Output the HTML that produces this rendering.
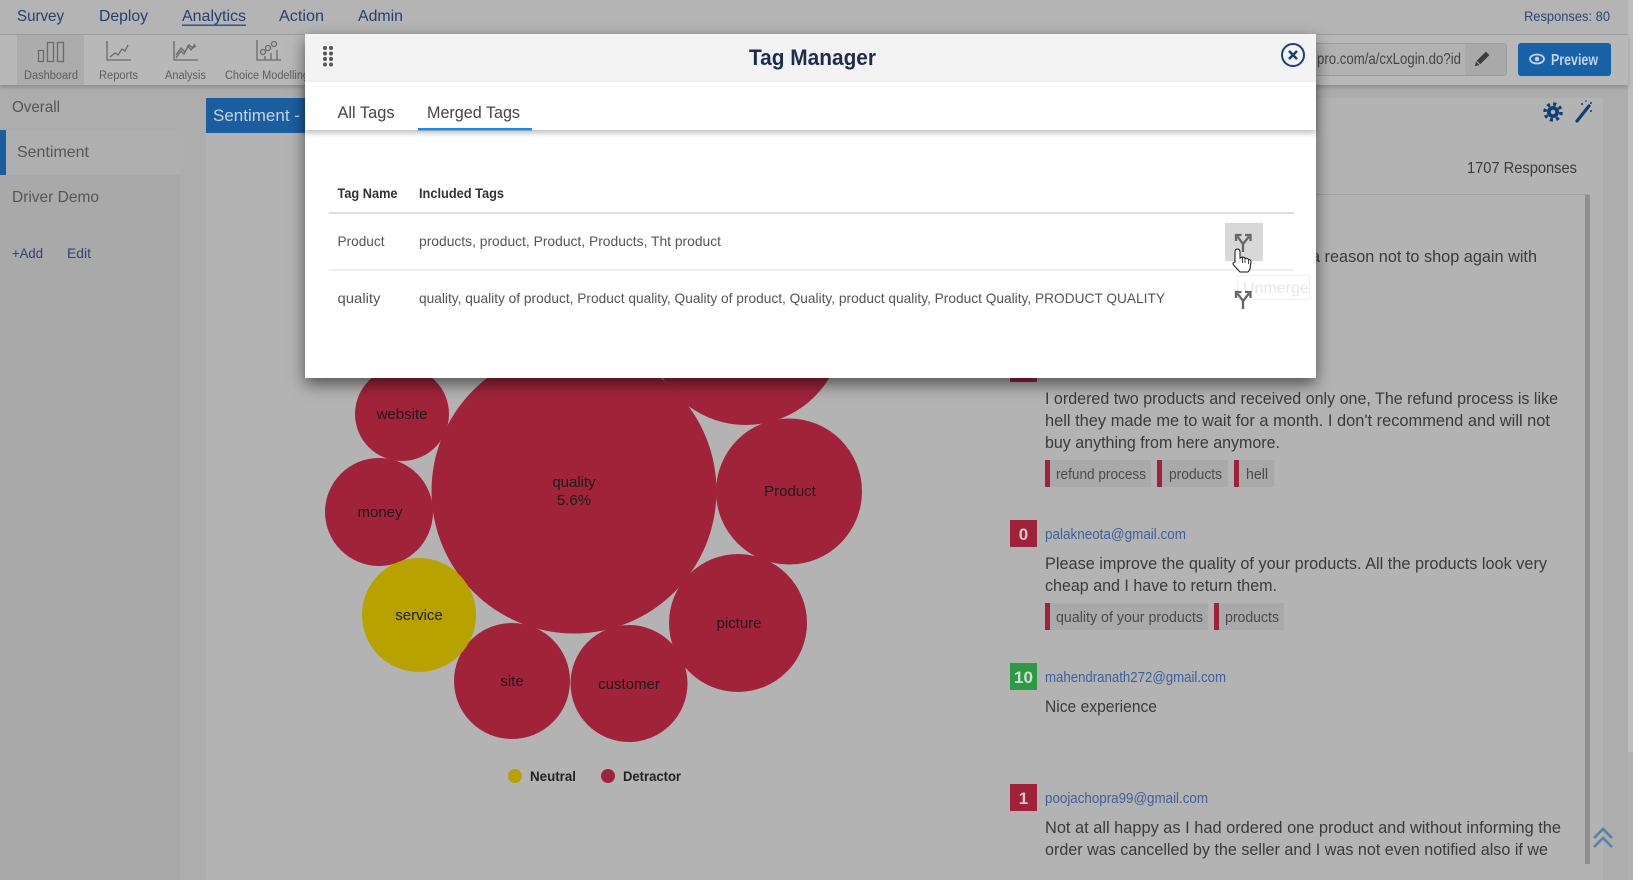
<!DOCTYPE html>
<html><head><meta charset="utf-8"><style>
html,body{margin:0;padding:0;width:1633px;height:880px;overflow:hidden;background:#b3b3b3}
svg{display:block}
text{font-family:"Liberation Sans",sans-serif}
</style></head><body>
<svg width="1633" height="880" viewBox="0 0 1633 880" xmlns="http://www.w3.org/2000/svg">
<defs>
<filter id="msh" x="-10%" y="-10%" width="120%" height="130%"><feDropShadow dx="0" dy="6" stdDeviation="8" flood-color="#000" flood-opacity="0.55"/></filter>
<filter id="tsh" x="-5%" y="-20%" width="110%" height="160%"><feDropShadow dx="0" dy="3" stdDeviation="3" flood-color="#000" flood-opacity="0.25"/></filter>
<filter id="bsh" x="-5%" y="-20%" width="110%" height="160%"><feDropShadow dx="0" dy="2" stdDeviation="2" flood-color="#000" flood-opacity="0.2"/></filter>
<clipPath id="listclip"><rect x="1005" y="195" width="580" height="669"/></clipPath>
</defs>

<!-- base backgrounds -->
<rect x="0" y="0" width="1633" height="880" fill="#adadad"/>
<rect x="206" y="98" width="1397" height="782" fill="#b3b3b3"/>
<rect x="0" y="85" width="180" height="795" fill="#a9a9a9"/>
<rect x="0" y="85" width="180" height="45" fill="#adadad"/>
<rect x="0" y="130" width="180" height="45" fill="#afafaf"/>
<rect x="0" y="130" width="6" height="45" fill="#1b5e9f"/>
<!-- page scrollbar -->
<rect x="1628" y="0" width="5" height="880" fill="#b0b0b0"/>
<rect x="1628" y="0" width="5" height="752" fill="#bdbdbd"/>

<!-- top nav -->
<rect x="0" y="0" width="1628" height="34" fill="#b4b4b4"/>
<rect x="0" y="34" width="1628" height="1" fill="#a2a2a2"/>
<g font-size="16" fill="#223f6e">
<text x="17" y="21" textLength="47" lengthAdjust="spacingAndGlyphs">Survey</text>
<text x="99" y="21" textLength="49" lengthAdjust="spacingAndGlyphs">Deploy</text>
<text x="182" y="21" textLength="64" lengthAdjust="spacingAndGlyphs">Analytics</text>
<text x="279" y="21" textLength="45" lengthAdjust="spacingAndGlyphs">Action</text>
<text x="358" y="21" textLength="45" lengthAdjust="spacingAndGlyphs">Admin</text>
</g>
<rect x="182" y="24.5" width="64" height="1.5" fill="#2a5a8a"/>
<text x="1524" y="21" font-size="14" fill="#284778" textLength="86" lengthAdjust="spacingAndGlyphs">Responses: 80</text>

<!-- toolbar -->
<g filter="url(#bsh)"><rect x="0" y="35" width="1628" height="50" fill="#b8b8b8"/></g>
<rect x="17" y="35" width="67" height="50" fill="#acacac"/>
<g fill="none" stroke="#6a6a6a" stroke-width="1.3">
<rect x="38.5" y="50.5" width="5" height="11"/>
<rect x="47.5" y="42.5" width="6" height="19"/>
<rect x="57.5" y="42.5" width="6" height="19"/>
<path d="M107 41 V60 H131"/>
<path d="M110 57 L115 53 L118 55 L122 49 L125 51 L128 45"/>
<path d="M174 41 V60 H198"/>
<path d="M176 58 L181 51 L184 54 L188 46 L191 50 L195 44"/>
<path d="M176 55 L181 48 L185 52 L189 45 L193 48 L196 46"/>
<path d="M257 40 V60 H281"/>
<circle cx="263" cy="52" r="2.5"/><circle cx="268" cy="48" r="2.5"/><circle cx="274" cy="44" r="2.5"/>
<path d="M265 60 V56 M271 60 V53 M277 60 V50"/>
</g>
<g font-size="11.5" fill="#5c5c5c">
<text x="24" y="79" textLength="54" lengthAdjust="spacingAndGlyphs">Dashboard</text>
<text x="99" y="79" textLength="39" lengthAdjust="spacingAndGlyphs">Reports</text>
<text x="165" y="79" textLength="41" lengthAdjust="spacingAndGlyphs">Analysis</text>
<text x="225" y="79" textLength="84" lengthAdjust="spacingAndGlyphs">Choice Modelling</text>
</g>
<!-- URL box -->
<rect x="1280.5" y="43.5" width="226" height="32" rx="3" fill="#b2b2b2" stroke="#9c9c9c"/>
<rect x="1465" y="44" width="41" height="31" fill="#a9a9a9"/>
<text x="1317" y="64" font-size="16" fill="#444" textLength="144" lengthAdjust="spacingAndGlyphs">pro.com/a/cxLogin.do?id</text>
<g transform="translate(1482 59) rotate(45)"><rect x="-2.5" y="-8" width="5" height="13" fill="#3c3c3c"/><path d="M-2.5 6 L0 10 L2.5 6 Z" fill="#3c3c3c"/></g>
<!-- preview -->
<rect x="1518" y="43" width="93" height="33" rx="3" fill="#1761a7"/>
<ellipse cx="1537" cy="59" rx="7" ry="4.5" fill="none" stroke="#c5d2e2" stroke-width="1.8"/>
<circle cx="1537" cy="59" r="2.3" fill="#c5d2e2"/>
<text x="1551" y="65" font-size="16" font-weight="bold" fill="#c5d2e2" textLength="47" lengthAdjust="spacingAndGlyphs">Preview</text>

<!-- sidebar text -->
<g font-size="16" fill="#555">
<text x="12" y="112" textLength="48" lengthAdjust="spacingAndGlyphs">Overall</text>
<text x="17" y="157" textLength="72" lengthAdjust="spacingAndGlyphs">Sentiment</text>
<text x="12" y="202" textLength="87" lengthAdjust="spacingAndGlyphs">Driver Demo</text>
</g>
<g font-size="14" fill="#2d4470">
<text x="12" y="258" textLength="31" lengthAdjust="spacingAndGlyphs">+Add</text>
<text x="67" y="258" textLength="24" lengthAdjust="spacingAndGlyphs">Edit</text>
</g>

<!-- sentiment header -->
<rect x="206" y="98" width="110" height="35" fill="#1b5e9f"/>
<text x="213" y="121" font-size="17" fill="#c9d3df">Sentiment - N</text>

<!-- right icons -->
<g fill="#103d75">
<circle cx="1553" cy="112" r="8" fill="none" stroke="#103d75" stroke-width="3.5" stroke-dasharray="3 3.28"/>
<circle cx="1553" cy="112" r="6"/>
<circle cx="1553" cy="112" r="2.3" fill="#b3b3b3"/>
</g>
<path d="M1577 121 L1589 106" stroke="#103d75" stroke-width="3.2" stroke-linecap="round"/>
<g fill="#103d75"><circle cx="1582" cy="104" r="1"/><circle cx="1591" cy="103" r="1"/><circle cx="1591" cy="111" r="1"/><circle cx="1586" cy="101" r="0.8"/></g>
<text x="1467" y="173" font-size="16" fill="#3a3a3a" textLength="110" lengthAdjust="spacingAndGlyphs">1707 Responses</text>

<!-- list box -->
<rect x="1005" y="194" width="585" height="1" fill="#a0a0a0"/>
<rect x="1585" y="195" width="5" height="669" fill="#8e8e8e"/>
<g clip-path="url(#listclip)">
<text x="1311" y="262" font-size="16.5" fill="#3a3a3a" textLength="226" lengthAdjust="spacingAndGlyphs">a reason not to shop again with</text>
<rect x="1010" y="355" width="27" height="27" fill="#a0223a"/>
<g font-size="16.5" fill="#3a3a3a">
<text x="1045" y="404" textLength="513" lengthAdjust="spacingAndGlyphs">I ordered two products and received only one, The refund process is like</text>
<text x="1045" y="426" textLength="505" lengthAdjust="spacingAndGlyphs">hell they made me to wait for a month. I don't recommend and will not</text>
<text x="1045" y="448" textLength="235" lengthAdjust="spacingAndGlyphs">buy anything from here anymore.</text>
</g>
<g>
<rect x="1045" y="460" width="106" height="27" fill="#a9a9a9"/><rect x="1045" y="460" width="5" height="27" fill="#a0223a"/>
<rect x="1157" y="460" width="71" height="27" fill="#a9a9a9"/><rect x="1157" y="460" width="5" height="27" fill="#a0223a"/>
<rect x="1234" y="460" width="40" height="27" fill="#a9a9a9"/><rect x="1234" y="460" width="5" height="27" fill="#a0223a"/>
</g>
<g font-size="14.5" fill="#4a4a4a">
<text x="1056" y="479" textLength="90" lengthAdjust="spacingAndGlyphs">refund process</text>
<text x="1169" y="479" textLength="53" lengthAdjust="spacingAndGlyphs">products</text>
<text x="1246" y="479" textLength="22" lengthAdjust="spacingAndGlyphs">hell</text>
</g>

<rect x="1010" y="520" width="27" height="27" fill="#a0223a"/>
<text x="1023.5" y="540" font-size="17" font-weight="bold" fill="#d9c5ca" text-anchor="middle">0</text>
<text x="1045" y="539" font-size="14.5" fill="#3e5f9e" textLength="141" lengthAdjust="spacingAndGlyphs">palakneota@gmail.com</text>
<g font-size="16.5" fill="#3a3a3a">
<text x="1045" y="569" textLength="502" lengthAdjust="spacingAndGlyphs">Please improve the quality of your products. All the products look very</text>
<text x="1045" y="591" textLength="232" lengthAdjust="spacingAndGlyphs">cheap and I have to return them.</text>
</g>
<rect x="1045" y="603" width="163" height="27" fill="#a9a9a9"/><rect x="1045" y="603" width="5" height="27" fill="#a0223a"/>
<rect x="1214" y="603" width="70" height="27" fill="#a9a9a9"/><rect x="1214" y="603" width="5" height="27" fill="#a0223a"/>
<g font-size="14.5" fill="#4a4a4a">
<text x="1056" y="622" textLength="147" lengthAdjust="spacingAndGlyphs">quality of your products</text>
<text x="1225" y="622" textLength="54" lengthAdjust="spacingAndGlyphs">products</text>
</g>

<rect x="1010" y="663" width="27" height="27" fill="#2d9a45"/>
<text x="1023.5" y="683" font-size="17" font-weight="bold" fill="#cde0d2" text-anchor="middle">10</text>
<text x="1045" y="682" font-size="14.5" fill="#3e5f9e" textLength="181" lengthAdjust="spacingAndGlyphs">mahendranath272@gmail.com</text>
<text x="1045" y="712" font-size="16.5" fill="#3a3a3a" textLength="112" lengthAdjust="spacingAndGlyphs">Nice experience</text>

<rect x="1010" y="784" width="27" height="27" fill="#a0223a"/>
<text x="1023.5" y="804" font-size="17" font-weight="bold" fill="#d9c5ca" text-anchor="middle">1</text>
<text x="1045" y="803" font-size="14.5" fill="#3e5f9e" textLength="163" lengthAdjust="spacingAndGlyphs">poojachopra99@gmail.com</text>
<g font-size="16.5" fill="#3a3a3a">
<text x="1045" y="833" textLength="516" lengthAdjust="spacingAndGlyphs">Not at all happy as I had ordered one product and without informing the</text>
<text x="1045" y="855" textLength="503" lengthAdjust="spacingAndGlyphs">order was cancelled by the seller and I was not even notified also if we</text>
<text x="1045" y="877" textLength="500" lengthAdjust="spacingAndGlyphs">don't like we can't even request to cancel the order from the seller</text>
</g>
</g>
<!-- scroll top chevrons -->
<path d="M1594 838 L1603 829 L1612 838 M1594 847 L1603 838 L1612 847" fill="none" stroke="#5b7fa6" stroke-width="2.6"/>

<!-- bubbles -->
<g fill="#a0233a">
<circle cx="746" cy="328" r="97"/>
<circle cx="574" cy="491" r="142.5"/>
<circle cx="402" cy="414" r="47"/>
<circle cx="379" cy="512" r="54"/>
<circle cx="789" cy="491.5" r="73"/>
<circle cx="738" cy="623" r="69"/>
<circle cx="512" cy="681" r="58"/>
<circle cx="629" cy="683.5" r="58.5"/>
<circle cx="350" cy="330" r="40"/>
</g>
<circle cx="419" cy="615" r="57" fill="#b8a200"/>
<g font-size="15" fill="#1c1c1c" text-anchor="middle">
<text x="402" y="419">website</text>
<text x="574" y="487">quality</text>
<text x="574" y="505">5.6%</text>
<text x="380" y="517">money</text>
<text x="790" y="496">Product</text>
<text x="419" y="620">service</text>
<text x="512" y="686">site</text>
<text x="629" y="689">customer</text>
<text x="739" y="628">picture</text>
</g>
<!-- legend -->
<circle cx="515" cy="776" r="7" fill="#b8a200"/>
<circle cx="608" cy="776" r="7" fill="#a0233a"/>
<g font-size="14" font-weight="bold" fill="#222">
<text x="530" y="781" textLength="46" lengthAdjust="spacingAndGlyphs">Neutral</text>
<text x="623" y="781" textLength="58" lengthAdjust="spacingAndGlyphs">Detractor</text>
</g>

<!-- MODAL -->
<g filter="url(#msh)"><rect x="305" y="34" width="1011" height="344" fill="#ffffff"/></g>
<rect x="305" y="34" width="1011" height="48" fill="#f3f3f3"/>
<g fill="#555">
<circle cx="325" cy="48" r="2"/><circle cx="331" cy="48" r="2"/>
<circle cx="325" cy="53.5" r="2"/><circle cx="331" cy="53.5" r="2"/>
<circle cx="325" cy="59" r="2"/><circle cx="331" cy="59" r="2"/>
<circle cx="325" cy="64.5" r="2"/><circle cx="331" cy="64.5" r="2"/>
</g>
<text x="749" y="65" font-size="22" font-weight="bold" fill="#1f2d4d" textLength="127" lengthAdjust="spacingAndGlyphs">Tag Manager</text>
<circle cx="1293" cy="55" r="11" fill="none" stroke="#1b3f7a" stroke-width="2"/>
<path d="M1289 51 L1297 59 M1297 51 L1289 59" stroke="#1b3f7a" stroke-width="2.6"/>
<!-- tab bar -->
<g filter="url(#tsh)"><rect x="305" y="82" width="1011" height="48" fill="#ffffff"/></g>
<text x="337.5" y="118" font-size="17" fill="#444" textLength="57" lengthAdjust="spacingAndGlyphs">All Tags</text>
<text x="427" y="118" font-size="17" fill="#444" textLength="93" lengthAdjust="spacingAndGlyphs">Merged Tags</text>
<rect x="418" y="128" width="114" height="2.5" fill="#1e88e5"/>
<!-- table -->
<g font-size="14" font-weight="bold" fill="#333">
<text x="337.5" y="198" textLength="60" lengthAdjust="spacingAndGlyphs">Tag Name</text>
<text x="419" y="198" textLength="85" lengthAdjust="spacingAndGlyphs">Included Tags</text>
</g>
<rect x="329" y="212" width="965" height="2" fill="#dddddd"/>
<g font-size="14" fill="#555">
<text x="337.5" y="246" textLength="47" lengthAdjust="spacingAndGlyphs">Product</text>
<text x="419" y="246" textLength="302" lengthAdjust="spacingAndGlyphs">products, product, Product, Products, Tht product</text>
<text x="337.5" y="303" textLength="43" lengthAdjust="spacingAndGlyphs">quality</text>
<text x="419" y="303" textLength="746" lengthAdjust="spacingAndGlyphs">quality, quality of product, Product quality, Quality of product, Quality, product quality, Product Quality, PRODUCT QUALITY</text>
</g>
<rect x="329" y="269.5" width="965" height="1" fill="#dddddd"/>
<rect x="1225" y="223" width="38" height="38" fill="#d8d8d8"/>
<!-- tooltip -->
<rect x="1237.5" y="275.5" width="72" height="24" fill="#ffffff" stroke="#f0f0f0"/>
<text x="1243" y="293" font-size="16" fill="#e6e6e6">Unmerge</text>
<!-- unmerge icons -->
<g fill="none" stroke="#666" stroke-width="2.3">
<path d="M1243 252 V244 L1237.5 236.5 M1243 244 L1249 236.5"/>
<path d="M1236 241 V235 H1241.5 M1245 235 H1250.5 V241"/>
<path d="M1243 309 V301 L1237.5 293.5 M1243 301 L1249 293.5"/>
<path d="M1236 298 V292 H1241.5 M1245 292 H1250.5 V298"/>
</g>
<!-- cursor -->
<path d="M1235 262 L1235 252 Q1235 249 1237.5 249 Q1240 249 1240 252 L1240 258 L1242.5 257 Q1244.5 257 1245 258.5 Q1247 257.5 1248.5 259.5 Q1251 259.5 1251 262 L1250 269 L1248 272 L1240 272 L1233.5 265 Q1232 262.5 1235 262 Z" fill="#fff" stroke="#111" stroke-width="1"/>
<path d="M1242.5 257 V263 M1245 258.5 V263 M1248.5 259.5 V264" stroke="#111" stroke-width="0.8"/>
</svg>
</body></html>
